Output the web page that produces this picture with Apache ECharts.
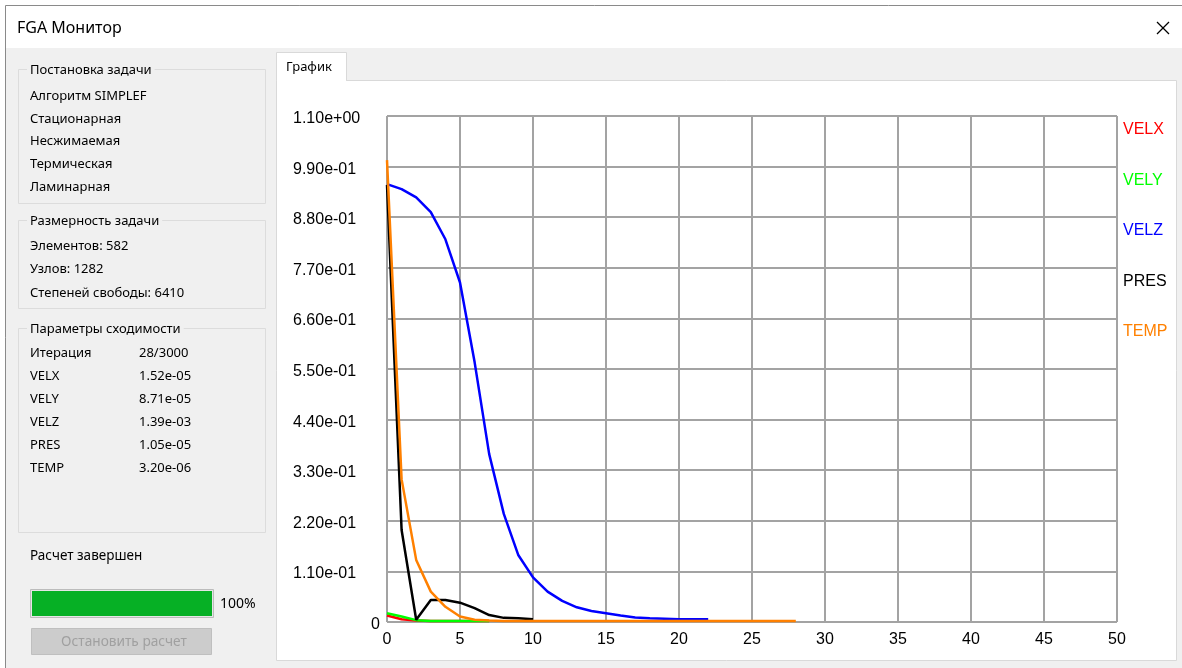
<!DOCTYPE html>
<html>
<head>
<meta charset="utf-8">
<script src="https://cdn.jsdelivr.net/npm/echarts@6/dist/echarts.min.js"></script>
<style>
html,body{margin:0;padding:0;background:#fff;}
#main{width:1182px;height:668px;}
</style>
</head>
<body>
<div id="main"></div>
<script>
// ---- data ----
var seriesNames = ['VELX', 'VELY', 'VELZ', 'PRES', 'TEMP'];
var seriesColors = ['#ff0000', '#00ff00', '#0000ff', '#000000', '#ff8000'];
var velx = [0.014, 0.006, 0.003, 0.002, 0.002, 0.002, 0.002, 0.002];
var vely = [0.019, 0.012, 0.004, 0.002, 0.002, 0.002, 0.002, 0.002];
var velz = [0.952, 0.941, 0.923, 0.891, 0.832, 0.738, 0.565, 0.365, 0.235, 0.145, 0.097, 0.066, 0.046, 0.032, 0.024, 0.019, 0.014, 0.010, 0.008, 0.007, 0.006, 0.006, 0.006];
var pres = [0.95, 0.20, 0.005, 0.048, 0.048, 0.042, 0.030, 0.015, 0.009, 0.008, 0.006];
var temp = [1.004, 0.31, 0.135, 0.066, 0.033, 0.012, 0.005, 0.003, 0.002, 0.002, 0.002, 0.002, 0.002, 0.002, 0.002, 0.002, 0.002, 0.002, 0.002, 0.002, 0.002, 0.002, 0.002, 0.002, 0.002, 0.002, 0.002, 0.002, 0.002];
var xMax = 50, xStep = 5;
var yMax = 1.1, yStep = 0.11;

var taskLines = ['Алгоритм SIMPLEF', 'Стационарная', 'Несжимаемая', 'Термическая', 'Ламинарная'];
var sizeLines = ['Элементов: 582', 'Узлов: 1282', 'Степеней свободы: 6410'];
var convNames = ['Итерация', 'VELX', 'VELY', 'VELZ', 'PRES', 'TEMP'];
var convValues = ['28/3000', '1.52e-05', '8.71e-05', '1.39e-03', '1.05e-05', '3.20e-06'];

// ---- helpers ----
var allSeries = [velx, vely, velz, pres, temp];
function toPairs(arr) { return arr.map(function (v, i) { return [i, v]; }); }
function fmtExp(v) {
  if (Math.abs(v) < 1e-12) return '{z|0}';
  var s = v.toExponential(2);
  return s.replace(/e([+-])(\d)$/, 'e$10$2');
}

var UI_FONT = '"Noto Sans", "DejaVu Sans", sans-serif';
var PLOT_FONT = '"Liberation Sans", Arial, sans-serif';
var BG = -20;

var g = [];
// window body
g.push({type: 'rect', z: BG, shape: {x: 5.5, y: 5.5, width: 1200, height: 700}, style: {fill: '#f0f0f0', stroke: '#8a8a8a', lineWidth: 1}});
g.push({type: 'rect', z: BG, shape: {x: 6, y: 6, width: 1200, height: 42}, style: {fill: '#ffffff'}});
g.push({type: 'text', z: BG, x: 17, y: 28, style: {text: 'FGA Монитор', font: '16px ' + UI_FONT, fill: '#000', verticalAlign: 'middle'}});
g.push({type: 'line', z: BG, shape: {x1: 1157, y1: 22, x2: 1169, y2: 34}, style: {stroke: '#000', lineWidth: 1.2}});
g.push({type: 'line', z: BG, shape: {x1: 1169, y1: 22, x2: 1157, y2: 34}, style: {stroke: '#000', lineWidth: 1.2}});

// group boxes
function groupBox(x, y, w, h, label) {
  g.push({type: 'rect', z: BG, shape: {x: x + 0.5, y: y + 0.5, width: w, height: h}, style: {fill: 'none', stroke: '#dcdcdc', lineWidth: 1}});
  g.push({type: 'text', z: BG + 1, x: x + 9, y: y + 1, style: {text: label, font: '13px ' + UI_FONT, fill: '#000', verticalAlign: 'middle', backgroundColor: '#f0f0f0', padding: [0, 3]}});
}
groupBox(18, 69, 247, 134, 'Постановка задачи');
taskLines.forEach(function (t, i) {
  g.push({type: 'text', z: BG, x: 30, y: 96 + i * 22.8, style: {text: t, font: '13px ' + UI_FONT, fill: '#000', verticalAlign: 'middle'}});
});
groupBox(18, 220, 247, 88, 'Размерность задачи');
sizeLines.forEach(function (t, i) {
  g.push({type: 'text', z: BG, x: 30, y: 246 + i * 23.5, style: {text: t, font: '13px ' + UI_FONT, fill: '#000', verticalAlign: 'middle'}});
});
groupBox(18, 328, 247, 204, 'Параметры сходимости');
convNames.forEach(function (t, i) {
  g.push({type: 'text', z: BG, x: 30, y: 353 + i * 23, style: {text: t, font: '13px ' + UI_FONT, fill: '#000', verticalAlign: 'middle'}});
  g.push({type: 'text', z: BG, x: 139, y: 353 + i * 23, style: {text: convValues[i], font: '13px ' + UI_FONT, fill: '#000', verticalAlign: 'middle'}});
});
g.push({type: 'text', z: BG, x: 30, y: 556, style: {text: 'Расчет завершен', font: '13.5px ' + UI_FONT, fill: '#000', verticalAlign: 'middle'}});
// progress
g.push({type: 'rect', z: BG, shape: {x: 30.5, y: 589.5, width: 183, height: 28}, style: {fill: '#e6e6e6', stroke: '#bcbcbc', lineWidth: 1}});
g.push({type: 'rect', z: BG, shape: {x: 32, y: 591, width: 180, height: 25}, style: {fill: '#06b025'}});
g.push({type: 'text', z: BG, x: 220, y: 604, style: {text: '100%', font: '14px ' + UI_FONT, fill: '#000', verticalAlign: 'middle'}});
// button
g.push({type: 'rect', z: BG, shape: {x: 31.5, y: 628.5, width: 180, height: 26}, style: {fill: '#cccccc', stroke: '#bfbfbf', lineWidth: 1}});
g.push({type: 'text', z: BG, x: 124, y: 642, style: {text: 'Остановить расчет', font: '13.7px ' + UI_FONT, fill: '#a0a0a0', verticalAlign: 'middle', align: 'center'}});

// tab control
g.push({type: 'rect', z: BG, shape: {x: 276.5, y: 80.5, width: 900, height: 580}, style: {fill: '#ffffff', stroke: '#d9d9d9', lineWidth: 1}});
g.push({type: 'rect', z: BG, shape: {x: 276.5, y: 52.5, width: 70, height: 28}, style: {fill: '#ffffff', stroke: '#d9d9d9', lineWidth: 1}});
g.push({type: 'rect', z: BG + 1, shape: {x: 277, y: 78, width: 69, height: 4}, style: {fill: '#ffffff'}});
g.push({type: 'text', z: BG + 1, x: 286, y: 67, style: {text: 'График', font: '13px ' + UI_FONT, fill: '#000', verticalAlign: 'middle'}});

var option = {
  animation: false,
  backgroundColor: '#ffffff',
  graphic: g,
  grid: {left: 387, top: 116, right: 65, bottom: 46, containLabel: false},
  legend: {
    orient: 'vertical', left: 1113, top: 116, icon: 'none', itemWidth: 0, itemHeight: 18, itemGap: 32.5,
    selectedMode: false,
    textStyle: {fontSize: 16, fontFamily: PLOT_FONT, lineHeight: 18},
    data: seriesNames.map(function (n, i) { return {name: n, textStyle: {color: seriesColors[i]}}; })
  },
  xAxis: {
    type: 'value', min: 0, max: xMax, interval: xStep,
    axisLine: {show: false}, axisTick: {show: false},
    axisLabel: {fontSize: 16, fontFamily: PLOT_FONT, color: '#000', margin: 10},
    splitLine: {show: true, lineStyle: {color: '#a3a3a3', width: 2}}
  },
  yAxis: {
    type: 'value', min: 0, max: yMax, interval: yStep,
    axisLine: {show: false}, axisTick: {show: false},
    axisLabel: {
      fontSize: 16, fontFamily: PLOT_FONT, color: '#000', align: 'left', margin: 94,
      padding: [5, 0, 0, 0],
      formatter: fmtExp,
      rich: {z: {fontSize: 16, fontFamily: PLOT_FONT, color: '#000', padding: [0, 0, 0, 78]}}
    },
    splitLine: {show: true, lineStyle: {color: '#a3a3a3', width: 2}}
  },
  series: seriesNames.map(function (n, i) {
    return {
      name: n, type: 'line', showSymbol: false, symbol: 'none',
      data: toPairs(allSeries[i]),
      lineStyle: {color: seriesColors[i], width: 2.5},
      itemStyle: {color: seriesColors[i]},
      z: 3 + i
    };
  })
};
var chart = echarts.init(document.getElementById('main'), null, {renderer: 'canvas'});
chart.setOption(option);
</script>
</body>
</html>
